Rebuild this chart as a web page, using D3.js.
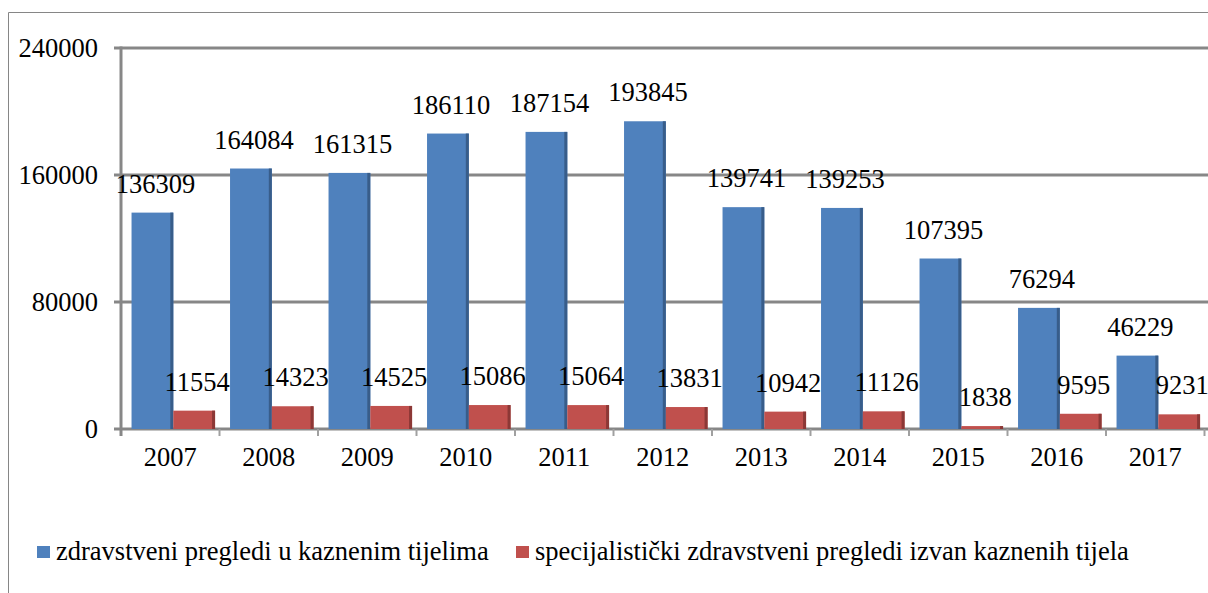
<!DOCTYPE html>
<html>
<head>
<meta charset="utf-8">
<script src="https://cdn.jsdelivr.net/npm/d3@7"></script>
<style>
  body { margin: 0; background: #fff; }
</style>
</head>
<body>
<script>
// Podaci
const godine = ["2007", "2008", "2009", "2010", "2011", "2012", "2013", "2014", "2015", "2016", "2017"];
const pregledi = [136309, 164084, 161315, 186110, 187154, 193845, 139741, 139253, 107395, 76294, 46229];
const specijalisticki = [11554, 14323, 14525, 15086, 15064, 13831, 10942, 11126, 1838, 9595, 9231];
const serije = ["zdravstveni pregledi u kaznenim tijelima", "specijalistički zdravstveni pregledi izvan kaznenih tijela"];
const yTicks = [0, 80000, 160000, 240000];

const boje = ["#4F81BD", "#C0504D"];
const rubovi = ["#385D8A", "#8C3836"];
const fs = 26.5;

const svg = d3.select("body").append("svg")
    .attr("width", 1208)
    .attr("height", 593)
    .style("font-family", "'Liberation Serif', 'Times New Roman', 'DejaVu Serif', serif");

// Okvir
svg.append("path")
    .attr("d", "M 8.5 593 L 8.5 12.5 L 1208 12.5")
    .attr("fill", "none")
    .attr("stroke", "#868686")
    .attr("stroke-width", 1);

const x0 = d3.scaleBand()
    .domain(godine)
    .range([121, 1204.5]);

const bw = x0.bandwidth();
const x1 = d3.scaleBand()
    .domain([0, 1])
    .range([bw * 0.107, bw * 0.955]);

const y = d3.scaleLinear()
    .domain([0, 240000])
    .range([429, 48]);

// Mreža
svg.append("g").selectAll("line")
    .data(yTicks)
    .join("line")
    .attr("x1", 114)
    .attr("x2", 1208)
    .attr("y1", d => y(d))
    .attr("y2", d => y(d))
    .attr("stroke", "#878787")
    .attr("stroke-width", 3);

// Lijevi zid
svg.append("line")
    .attr("x1", 121).attr("x2", 121)
    .attr("y1", y(240000) - 1.5).attr("y2", 436)
    .attr("stroke", "#878787")
    .attr("stroke-width", 3);

// Oznake kategorija
svg.append("g").selectAll("line")
    .data(godine)
    .join("line")
    .attr("x1", d => x0(d) + bw)
    .attr("x2", d => x0(d) + bw)
    .attr("y1", 429)
    .attr("y2", 436)
    .attr("stroke", "#a0a0a0")
    .attr("stroke-width", 2);

// Y oznake
svg.append("g").selectAll("text")
    .data(yTicks)
    .join("text")
    .attr("x", 98)
    .attr("y", d => y(d))
    .attr("dy", "0.35em")
    .attr("text-anchor", "end")
    .attr("font-size", fs)
    .text(d => d);

// X oznake
svg.append("g").selectAll("text")
    .data(godine)
    .join("text")
    .attr("x", d => x0(d) + bw / 2)
    .attr("y", 466)
    .attr("text-anchor", "middle")
    .attr("font-size", fs)
    .text(d => d);

// Stupci
const podaci = godine.map((g, i) => ({ g, v: [pregledi[i], specijalisticki[i]] }));

const grupe = svg.append("g").selectAll("g")
    .data(podaci)
    .join("g")
    .attr("transform", d => `translate(${x0(d.g)},0)`);

const stupci = grupe.selectAll("g")
    .data(d => d.v.map((v, s) => ({ v, s })))
    .join("g");

stupci.append("rect")
    .attr("x", d => x1(d.s))
    .attr("y", d => y(d.v))
    .attr("width", x1.bandwidth())
    .attr("height", d => y(0) - y(d.v))
    .attr("fill", d => boje[d.s]);

stupci.append("rect")
    .attr("x", d => x1(d.s) + x1.bandwidth() - 3)
    .attr("y", d => y(d.v))
    .attr("width", 3)
    .attr("height", d => y(0) - y(d.v))
    .attr("fill", d => rubovi[d.s]);

// Vrijednosti
stupci.append("text")
    .attr("x", d => x1(d.s) + x1.bandwidth() / 2 + 3)
    .attr("y", d => y(d.v) - 20)
    .attr("text-anchor", "middle")
    .attr("font-size", fs)
    .text(d => d.v);

// Legenda
const legenda = svg.append("g").attr("transform", "translate(37,546)");
const l1 = legenda.append("g");
l1.append("rect").attr("width", 13).attr("height", 12).attr("fill", boje[0]);
l1.append("text").attr("x", 19).attr("y", 14).attr("font-size", fs).text(serije[0]);

const l2 = legenda.append("g").attr("transform", "translate(479,0)");
l2.append("rect").attr("width", 13).attr("height", 12).attr("fill", boje[1]);
l2.append("text").attr("x", 19).attr("y", 14).attr("font-size", fs).text(serije[1]);
</script>
</body>
</html>
